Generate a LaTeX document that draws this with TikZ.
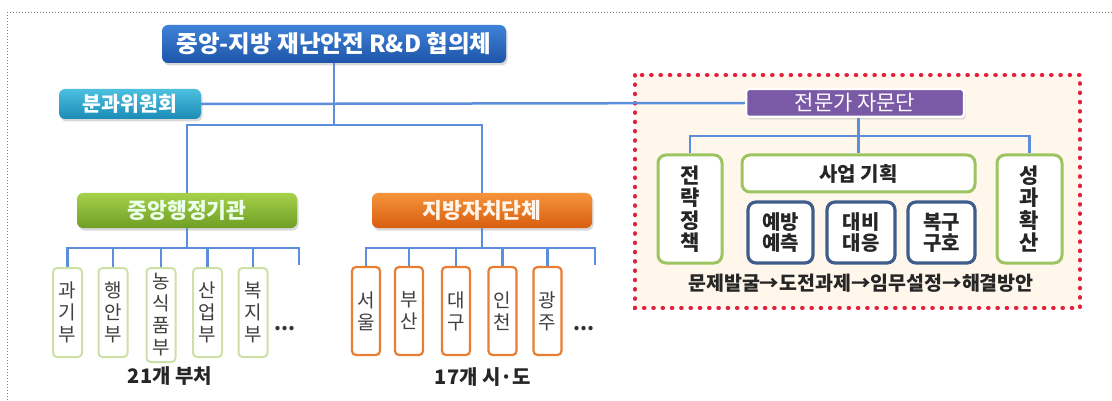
\documentclass[tikz,border=0pt]{standalone}
\usepackage{fontspec}
\setmainfont{Noto Sans CJK KR}
\usetikzlibrary{shadows}
\definecolor{lineblue}{HTML}{5B8EDB}
\definecolor{topA}{HTML}{3F82D8}
\definecolor{topB}{HTML}{1D55A8}
\definecolor{tealA}{HTML}{4DC0E0}
\definecolor{tealB}{HTML}{1A8CB6}
\definecolor{grnA}{HTML}{A6D14A}
\definecolor{grnB}{HTML}{6E9E25}
\definecolor{orgA}{HTML}{F5943A}
\definecolor{orgB}{HTML}{D85E10}
\definecolor{purp}{HTML}{7A5AA6}
\definecolor{smallgrn}{HTML}{CFE0A6}
\definecolor{smallorg}{HTML}{E87E33}
\definecolor{panelgrn}{HTML}{9CC562}
\definecolor{navyb}{HTML}{3E5C8C}
\definecolor{redd}{HTML}{E3213B}
\definecolor{cream}{HTML}{FFF7EC}
\definecolor{txtgray}{HTML}{404040}
\definecolor{framegray}{HTML}{808080}
\begin{document}
\begin{tikzpicture}[x=1pt,y=-1pt,
  conn/.style={draw=lineblue,line width=2.5pt},
  shad/.style={drop shadow={shadow xshift=1.5pt,shadow yshift=-2.5pt,opacity=0.3}},
  bigbox/.style={shad,rounded corners=6pt,inner sep=0pt,text=white},
  topbox/.style={bigbox,top color=topA,bottom color=topB,minimum width=344pt,minimum height=38pt,
    font=\fontsize{23.5}{26}\selectfont\bfseries},
  tealbox/.style={bigbox,top color=tealA,bottom color=tealB,minimum width=142pt,minimum height=30pt,
    font=\fontsize{20.5}{22}\selectfont\bfseries},
  grnbox/.style={bigbox,top color=grnA,bottom color=grnB,minimum width=220pt,minimum height=35pt,
    font=\fontsize{21.5}{24}\selectfont\bfseries,text=white!92!green},
  orgbox/.style={bigbox,top color=orgA,bottom color=orgB,minimum width=220pt,minimum height=35pt,
    font=\fontsize{21.5}{24}\selectfont\bfseries,text=white!92!orange},
  purpbox/.style={shad,fill=purp,draw=white,line width=2.5pt,rounded corners=3pt,inner sep=0pt,
    minimum width=218pt,minimum height=28pt,text=white,font=\fontsize{21}{22}\selectfont},
  gsmall/.style={draw=smallgrn,line width=2pt,fill=white,rounded corners=4pt,inner sep=0pt,
    minimum width=29pt,minimum height=89pt,align=center,text=txtgray,font=\fontsize{19}{22}\selectfont},
  osmall/.style={draw=smallorg,line width=2.2pt,fill=white,rounded corners=4pt,inner sep=0pt,
    minimum width=28pt,minimum height=88pt,align=center,text=txtgray,font=\fontsize{19}{22}\selectfont},
  pgbox/.style={draw=panelgrn,line width=3pt,fill=white,rounded corners=8pt,inner sep=0pt,
    align=center,text=black!85,font=\fontsize{21}{22.5}\selectfont\bfseries},
  nbox/.style={draw=navyb,line width=3.2pt,fill=white,rounded corners=8pt,inner sep=0pt,
    align=center,text=black!85,minimum height=61pt,font=\fontsize{20}{21}\selectfont\bfseries},
  lbl/.style={inner sep=0pt,text=black!85,font=\fontsize{20}{22}\selectfont\bfseries}
]
\useasboundingbox (0,0) rectangle (1112,401);
% outer dotted frame (top and left)
\draw[framegray,line width=1pt,dotted] (1112,13) -- (7,13) -- (7,401);
% right panel
\draw[fill=cream,draw=none] (635,75) rectangle (1080,308);
\draw[redd,line width=3.8pt,line cap=round,dash pattern=on 0.8pt off 8.5pt] (635,75) rectangle (1080,308);

% main nodes
\node[topbox] (top) at (334,44) {중앙-지방 재난안전 R\&D 협의체};
\node[tealbox] (bk) at (130,104) {분과위원회};
\node[purpbox] (jm) at (855,103) {전문가 자문단};
\node[grnbox] (cg) at (187,210.5) {중앙행정기관};
\node[orgbox] (lg) at (482,210.5) {지방자치단체};

% small green boxes
\node[gsmall] (g1) at (67.5,312.5) {과\\기\\부};
\node[gsmall] (g2) at (113,312.5) {행\\안\\부};
\node[gsmall,minimum height=94pt] (g3) at (161,315) {농\\식\\품\\부};
\node[gsmall] (g4) at (207.5,312.5) {산\\업\\부};
\node[gsmall] (g5) at (253,312.5) {복\\지\\부};
\coordinate (g6) at (299,265);
\node[lbl,text=black!80] (gdots) at (285,329) {...};
\node[lbl] (gl) at (170,376) {21개 부처};

% small orange boxes
\node[osmall] (o1) at (366,311) {서\\울};
\node[osmall] (o2) at (409,311) {부\\산};
\node[osmall] (o3) at (456,311) {대\\구};
\node[osmall] (o4) at (502.5,311) {인\\천};
\node[osmall] (o5) at (547.5,311) {광\\주};
\coordinate (o6) at (595,265);
\node[lbl,text=black!80] (odots) at (584,329) {...};
\node[lbl] (ol) at (483,377) {17개 시·도};

% right panel boxes
\node[pgbox,minimum width=64pt,minimum height=108pt] (p1) at (690,209) {전\\략\\정\\책};
\node[pgbox,minimum width=233pt,minimum height=37pt,font=\fontsize{20}{22}\selectfont\bfseries] (p2) at (858.5,173.5) {사업 기획};
\node[pgbox,minimum width=65pt,minimum height=108pt] (p3) at (1029.5,209) {성\\과\\확\\산};
\node[nbox,minimum width=65pt] (b1) at (780.5,232.5) {예방\\예측};
\node[nbox,minimum width=68pt] (b2) at (861,232.5) {대비\\대응};
\node[nbox,minimum width=67pt] (b3) at (941.5,232.5) {복구\\구호};
\node[lbl,font=\fontsize{19.5}{22}\selectfont\bfseries] (flow) at (861,283) {문제발굴→도전과제→임무설정→해결방안};

% connectors: top
\draw[conn] (bk.east) -- (jm.west);
\draw[conn] (top.south) -- ++(0,62) coordinate (tj);
\draw[conn] (cg.north) |- (tj) -| (lg.north);
% green branch
\draw[conn] (cg.south) -- ++(0,20) coordinate (gj);
\draw[conn] (g1.north) |- (gj) -| (g6);
\foreach \n in {g2,g3,g4,g5} \draw[conn] (\n.north) -- (\n.north |- gj);
% orange branch
\draw[conn] (lg.south) -- ++(0,20) coordinate (oj);
\draw[conn] (o1.north) |- (oj) -| (o6);
\foreach \n in {o2,o3,o4,o5} \draw[conn] (\n.north) -- (\n.north |- oj);
% right panel branch
\coordinate (pj) at (858.5,136);
\draw[conn] (jm.south -| p2.north) -- (pj);
\draw[conn] (p1.north) |- (pj) -| (p3.north);
\draw[conn] (pj) -- (p2.north);
\end{tikzpicture}
\end{document}
